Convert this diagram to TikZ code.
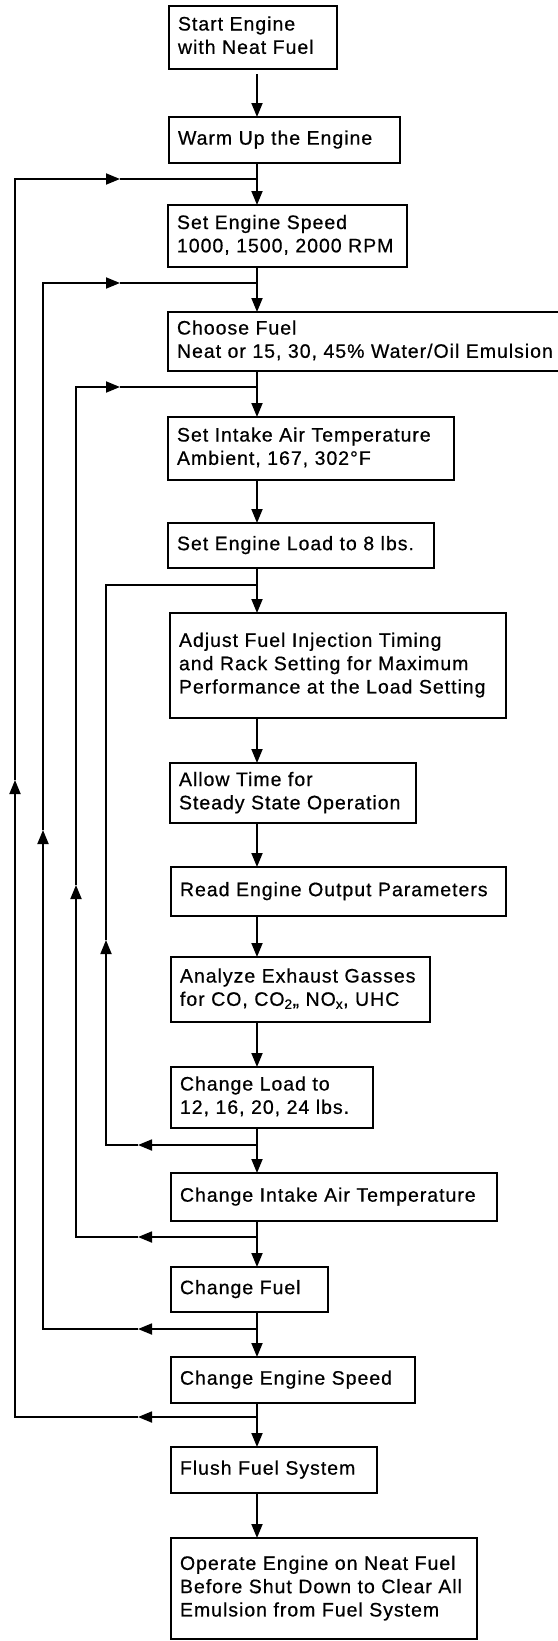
\documentclass[tikz,border=0pt]{standalone}
\usepackage{fontspec}
\setmainfont{Liberation Sans}[LetterSpace=5,FakeBold=0.6]
\usetikzlibrary{arrows.meta}
\newcommand{\boxlines}[1]{\begin{tabular}{@{}l@{}}#1\end{tabular}}
\begin{document}
\begin{tikzpicture}[x=1pt,y=-1pt,
  stepbox/.style={draw, line width=2.2pt, anchor=north west, inner xsep=9pt, inner ysep=0pt, outer sep=0pt,
    font=\fontsize{19.5}{23.3}\selectfont},
  conn/.style={line width=1.8pt},
  arr/.style={conn, -{Triangle[length=14pt,width=11pt]}}]
\useasboundingbox (0,0) rectangle (557,1641);

\node[stepbox, text width=150pt, minimum height=63pt] (b1) at (169,6) {\boxlines{Start Engine\\with Neat Fuel}};
\node[stepbox, text width=213pt, minimum height=46pt] (b2) at (169,117) {\boxlines{Warm Up the Engine}};
\node[stepbox, text width=221pt, minimum height=62pt] (b3) at (168,205) {\boxlines{Set Engine Speed\\1000, 1500, 2000 RPM}};
\node[stepbox, text width=402pt, minimum height=59pt] (b4) at (168,312) {\boxlines{Choose Fuel\\Neat or 15, 30, 45\% Water/Oil Emulsion}};
\node[stepbox, text width=268pt, minimum height=63pt] (b5) at (168,417) {\boxlines{Set Intake Air Temperature\\Ambient, 167, 302°F}};
\node[stepbox, text width=248pt, minimum height=45pt] (b6) at (168,523) {\boxlines{Set Engine Load to 8 lbs.}};
\node[stepbox, text width=318pt, minimum height=105pt] (b7) at (170,613) {\boxlines{Adjust Fuel Injection Timing\\and Rack Setting for Maximum\\Performance at the Load Setting}};
\node[stepbox, text width=228pt, minimum height=60pt] (b8) at (170,763) {\boxlines{Allow Time for\\Steady State Operation}};
\node[stepbox, text width=317pt, minimum height=49pt] (b9) at (171,867) {\boxlines{Read Engine Output Parameters}};
\node[stepbox, text width=241pt, minimum height=65pt] (b10) at (171,957) {\boxlines{Analyze Exhaust Gasses\\for CO, CO\textsubscript{2},, NO\textsubscript{x}, UHC}};
\node[stepbox, text width=184pt, minimum height=61pt] (b11) at (171,1067) {\boxlines{Change Load to\\12, 16, 20, 24 lbs.}};
\node[stepbox, text width=308pt, minimum height=48pt] (b12) at (171,1173) {\boxlines{Change Intake Air Temperature}};
\node[stepbox, text width=139pt, minimum height=45pt] (b13) at (171,1267) {\boxlines{Change Fuel}};
\node[stepbox, text width=226pt, minimum height=46pt] (b14) at (171,1357) {\boxlines{Change Engine Speed}};
\node[stepbox, text width=188pt, minimum height=46pt] (b15) at (171,1447) {\boxlines{Flush Fuel System}};
\node[stepbox, text width=288pt, minimum height=101pt] (b16) at (171,1538) {\boxlines{Operate Engine on Neat Fuel\\Before Shut Down to Clear All\\Emulsion from Fuel System}};

\coordinate (X) at (257,0);
\draw[arr, shorten <=5pt] (b1.south -| X) -- (b2.north -| X);
\draw[arr] (b2.south -| X) -- (b3.north -| X);
\draw[arr] (b3.south -| X) -- (b4.north -| X);
\draw[arr] (b4.south -| X) -- (b5.north -| X);
\draw[arr] (b5.south -| X) -- (b6.north -| X);
\draw[arr] (b6.south -| X) -- (b7.north -| X);
\draw[arr] (b7.south -| X) -- (b8.north -| X);
\draw[arr] (b8.south -| X) -- (b9.north -| X);
\draw[arr] (b9.south -| X) -- (b10.north -| X);
\draw[arr] (b10.south -| X) -- (b11.north -| X);
\draw[arr] (b11.south -| X) -- (b12.north -| X);
\draw[arr] (b12.south -| X) -- (b13.north -| X);
\draw[arr] (b13.south -| X) -- (b14.north -| X);
\draw[arr] (b14.south -| X) -- (b15.north -| X);
\draw[arr] (b15.south -| X) -- (b16.north -| X);

% junctions on main line
\coordinate (t1) at (257,179);
\coordinate (t2) at (257,283);
\coordinate (t3) at (257,387);
\coordinate (t4) at (257,585);
\coordinate (r1) at (257,1417);
\coordinate (r2) at (257,1329);
\coordinate (r3) at (257,1237);
\coordinate (r4) at (257,1145);

% loop 1 (engine speed)
\coordinate (A1l) at (138,1417);
\coordinate (L1b) at (15,1417);
\coordinate (A1u) at (15,780);
\coordinate (L1t) at (15,179);
\coordinate (A1r) at (120,179);
\draw[arr] (r1) -- (A1l);
\draw[arr] (A1l) -- (L1b) -- (A1u);
\draw[arr] (A1u) -- (L1t) -- (A1r);
\draw[conn] (A1r) -- (t1);

% loop 2 (fuel)
\coordinate (A2l) at (138,1329);
\coordinate (L2b) at (43,1329);
\coordinate (A2u) at (43,830);
\coordinate (L2t) at (43,283);
\coordinate (A2r) at (120,283);
\draw[arr] (r2) -- (A2l);
\draw[arr] (A2l) -- (L2b) -- (A2u);
\draw[arr] (A2u) -- (L2t) -- (A2r);
\draw[conn] (A2r) -- (t2);

% loop 3 (intake air temperature)
\coordinate (A3l) at (138,1237);
\coordinate (L3b) at (76,1237);
\coordinate (A3u) at (76,885);
\coordinate (L3t) at (76,387);
\coordinate (A3r) at (120,387);
\draw[arr] (r3) -- (A3l);
\draw[arr] (A3l) -- (L3b) -- (A3u);
\draw[arr] (A3u) -- (L3t) -- (A3r);
\draw[conn] (A3r) -- (t3);

% loop 4 (load)
\coordinate (A4l) at (138,1145);
\coordinate (L4b) at (106,1145);
\coordinate (A4u) at (106,940);
\coordinate (L4t) at (106,585);
\draw[arr] (r4) -- (A4l);
\draw[arr] (A4l) -- (L4b) -- (A4u);
\draw[conn] (A4u) -- (L4t) -- (t4);
\end{tikzpicture}
\end{document}
